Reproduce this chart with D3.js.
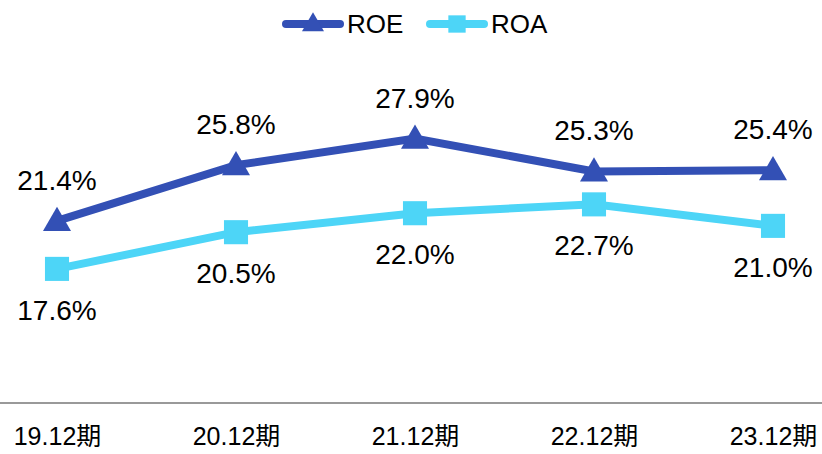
<!DOCTYPE html>
<html>
<head>
<meta charset="utf-8">
<script src="https://cdn.jsdelivr.net/npm/d3@7"></script>
<style>
  body { margin: 0; background: #fff; }
  text { font-family: "Liberation Sans", Arial, "Noto Sans CJK JP", sans-serif; font-weight: 400; }
</style>
</head>
<body>
<script>
var periods = ["19.12期", "20.12期", "21.12期", "22.12期", "23.12期"];
var roe = [21.4, 25.8, 27.9, 25.3, 25.4];
var roa = [17.6, 20.5, 22.0, 22.7, 21.0];
var seriesNames = ["ROE", "ROA"];

var width = 822,
    height = 454;

var roeColor = "#3350b5",
    roaColor = "#4dd5f7";

var svg = d3.select("body")
    .append("svg")
    .attr("width", width)
    .attr("height", height);

var x = d3.scalePoint()
    .domain(periods)
    .range([57, 773]);

var y = d3.scaleLinear()
    .domain([7, 30])
    .range([403, 112]);

// x axis
var xAxis = svg.append("g")
    .attr("transform", "translate(0,403)")
    .call(d3.axisBottom(x).tickSize(0).tickPadding(24));
xAxis.select(".domain").remove();
xAxis.append("line")
    .attr("x1", 0).attr("x2", width)
    .attr("stroke", "#999").attr("stroke-width", 2);
xAxis.selectAll(".tick text")
    .attr("fill", "#000")
    .style("font-family", "'Liberation Sans', Arial, 'Noto Sans CJK JP', sans-serif")
    .style("font-size", "25px");

var line = d3.line()
    .x(function(d, i) { return x(periods[i]); })
    .y(function(d) { return y(d); });

var tri = d3.symbol().type(d3.symbolTriangle).size(340);
var sq = d3.symbol().type(d3.symbolSquare).size(580);

// ROA
svg.append("path")
    .datum(roa)
    .attr("fill", "none")
    .attr("stroke", roaColor)
    .attr("stroke-width", 8)
    .attr("d", line);

// ROE
svg.append("path")
    .datum(roe)
    .attr("fill", "none")
    .attr("stroke", roeColor)
    .attr("stroke-width", 8)
    .attr("d", line);

svg.append("g").selectAll("path")
    .data(roa)
    .enter()
    .append("path")
    .attr("fill", roaColor)
    .attr("transform", function(d, i) { return "translate(" + x(periods[i]) + "," + y(d) + ")"; })
    .attr("d", sq);

svg.append("g").selectAll("path")
    .data(roe)
    .enter()
    .append("path")
    .attr("fill", roeColor)
    .attr("transform", function(d, i) { return "translate(" + x(periods[i]) + "," + (y(d) + 2) + ")"; })
    .attr("d", tri);

// labels
svg.append("g").selectAll("text")
    .data(roe)
    .enter()
    .append("text")
    .attr("x", function(d, i) { return x(periods[i]); })
    .attr("y", function(d) { return y(d) - 31; })
    .attr("text-anchor", "middle")
    .style("font-size", "28px")
    .text(function(d) { return d.toFixed(1) + "%"; });

svg.append("g").selectAll("text")
    .data(roa)
    .enter()
    .append("text")
    .attr("x", function(d, i) { return x(periods[i]); })
    .attr("y", function(d) { return y(d) + 51; })
    .attr("text-anchor", "middle")
    .style("font-size", "28px")
    .text(function(d) { return d.toFixed(1) + "%"; });

// legend
var legend = svg.append("g");
var legendItems = [
    { name: seriesNames[0], color: roeColor, x: 286 },
    { name: seriesNames[1], color: roaColor, x: 430 }
];
legendItems.forEach(function(d, i) {
    legend.append("line")
        .attr("x1", d.x).attr("x2", d.x + 54)
        .attr("y1", 24).attr("y2", 24)
        .attr("stroke", d.color)
        .attr("stroke-width", 8)
        .attr("stroke-linecap", "round");
    legend.append("path")
        .attr("fill", d.color)
        .attr("transform", "translate(" + (d.x + 27) + "," + (i === 0 ? 25 : 24) + ")")
        .attr("d", i === 0 ? d3.symbol().type(d3.symbolTriangle).size(210)
                           : d3.symbol().type(d3.symbolSquare).size(300));
    legend.append("text")
        .attr("x", d.x + 61)
        .attr("y", 33)
        .style("font-size", "26px")
        .text(d.name);
});
</script>
</body>
</html>
